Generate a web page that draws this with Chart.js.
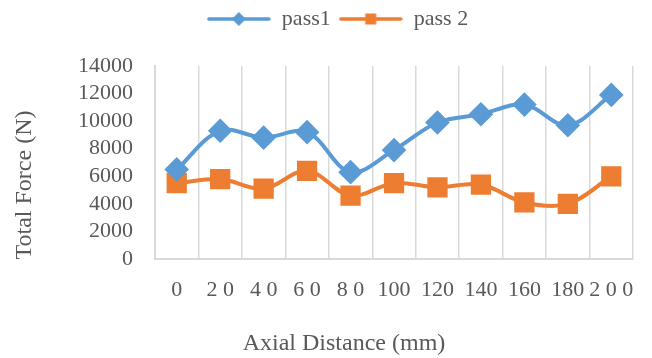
<!DOCTYPE html>
<html>
<head>
<meta charset="utf-8">
<script src="https://cdn.jsdelivr.net/npm/chart.js@4"></script>
<style>
  html, body { margin: 0; padding: 0; background: #fff; }
</style>
</head>
<body>
<canvas id="forceChart" width="652" height="358"></canvas>
<script>
// values
const distances = ['0', '2 0', '4 0', '6 0', '8 0', '100', '120', '140', '160', '180', '2 0 0'];
const pass1 = [6500, 9300, 8800, 9200, 6300, 7900, 9900, 10500, 11200, 9700, 11900];
const pass2 = [5500, 5800, 5100, 6400, 4600, 5500, 5200, 5400, 4100, 4000, 6000];
const yMax = 14000;
const yStep = 2000;

const BLUE = '#5B9BD5';
const ORANGE = '#ED7D31';
const TEXT = '#595959';
const GRID = '#D9D9D9';
const FONT = '"Liberation Serif", "Times New Roman", serif';

// little line+marker pictures for the legend
function legendMarker(color, shape) {
    const c = document.createElement('canvas');
    c.width = 64;
    c.height = 20;
    const g = c.getContext('2d');
    g.strokeStyle = color;
    g.lineWidth = 3.5;
    g.lineCap = 'round';
    g.beginPath();
    g.moveTo(2, 10);
    g.lineTo(62, 10);
    g.stroke();
    g.fillStyle = color;
    if (shape === 'diamond') {
        g.beginPath();
        g.moveTo(32, 3);
        g.lineTo(39, 10);
        g.lineTo(32, 17);
        g.lineTo(25, 10);
        g.closePath();
        g.fill();
    } else {
        g.fillRect(26.5, 4.5, 11, 11);
    }
    return c;
}
const markers = [legendMarker(BLUE, 'diamond'), legendMarker(ORANGE, 'square')];

// push the plot down below the legend like the original
const legendSpace = {
    id: 'legendSpace',
    beforeInit(chart) {
        const fit = chart.legend.fit;
        chart.legend.fit = function () {
            fit.call(this);
            this.height = 66;
        };
    }
};

// axis titles sit off-centre in the original, so draw them by hand
const axisTitles = {
    id: 'axisTitles',
    afterDraw(chart) {
        const ctx = chart.ctx;
        ctx.save();
        ctx.fillStyle = TEXT;
        ctx.font = '24px ' + FONT;
        ctx.textAlign = 'center';
        ctx.textBaseline = 'middle';
        ctx.fillText('Axial Distance (mm)', 344, 344);
        ctx.translate(25, 185);
        ctx.rotate(-Math.PI / 2);
        ctx.fillText('Total Force (N)', 0, 0);
        ctx.restore();
    }
};

new Chart(document.getElementById('forceChart'), {
    type: 'line',
    data: {
        labels: distances,
        datasets: [{
            label: 'pass1',
            data: pass1,
            borderColor: BLUE,
            backgroundColor: BLUE,
            borderWidth: 4,
            pointStyle: 'rectRot',
            pointRadius: 9.5,
            pointHoverRadius: 9.5,
            tension: 0.35
        }, {
            label: 'pass 2',
            data: pass2,
            borderColor: ORANGE,
            backgroundColor: ORANGE,
            borderWidth: 4,
            pointStyle: 'rect',
            pointRadius: 11.5,
            pointHoverRadius: 11.5,
            tension: 0.35
        }]
    },
    options: {
        responsive: false,
        animation: false,
        layout: { padding: { left: 30, right: 7, top: 0, bottom: 0 } },
        plugins: {
            tooltip: { enabled: false },
            legend: {
                position: 'top',
                labels: {
                    usePointStyle: true,
                    pointStyleWidth: 64,
                    boxHeight: 20,
                    padding: 8,
                    color: TEXT,
                    font: { family: FONT, size: 22 },
                    generateLabels(chart) {
                        const items = Chart.defaults.plugins.legend.labels.generateLabels(chart);
                        items.forEach((it, i) => {
                            it.pointStyle = markers[i];
                            it.fontColor = TEXT;
                        });
                        return items;
                    }
                }
            }
        },
        scales: {
            x: {
                offset: true,
                grid: { offset: true, color: GRID, lineWidth: 1.5, drawTicks: false },
                border: { color: GRID, width: 2 },
                ticks: {
                    color: TEXT,
                    font: { family: FONT, size: 22 },
                    padding: 18,
                    autoSkip: false,
                    maxRotation: 0,
                    minRotation: 0
                },
                afterFit(scale) { scale.height = 99; }
            },
            y: {
                min: 0,
                max: yMax,
                grid: { display: false, drawTicks: false },
                border: { color: GRID, width: 2 },
                ticks: {
                    stepSize: yStep,
                    autoSkip: false,
                    color: TEXT,
                    font: { family: FONT, size: 22 },
                    padding: 22,
                    callback: (v) => String(v)
                },
                afterFit(scale) { scale.width = 125; }
            }
        }
    },
    plugins: [legendSpace, axisTitles]
});
</script>
</body>
</html>
